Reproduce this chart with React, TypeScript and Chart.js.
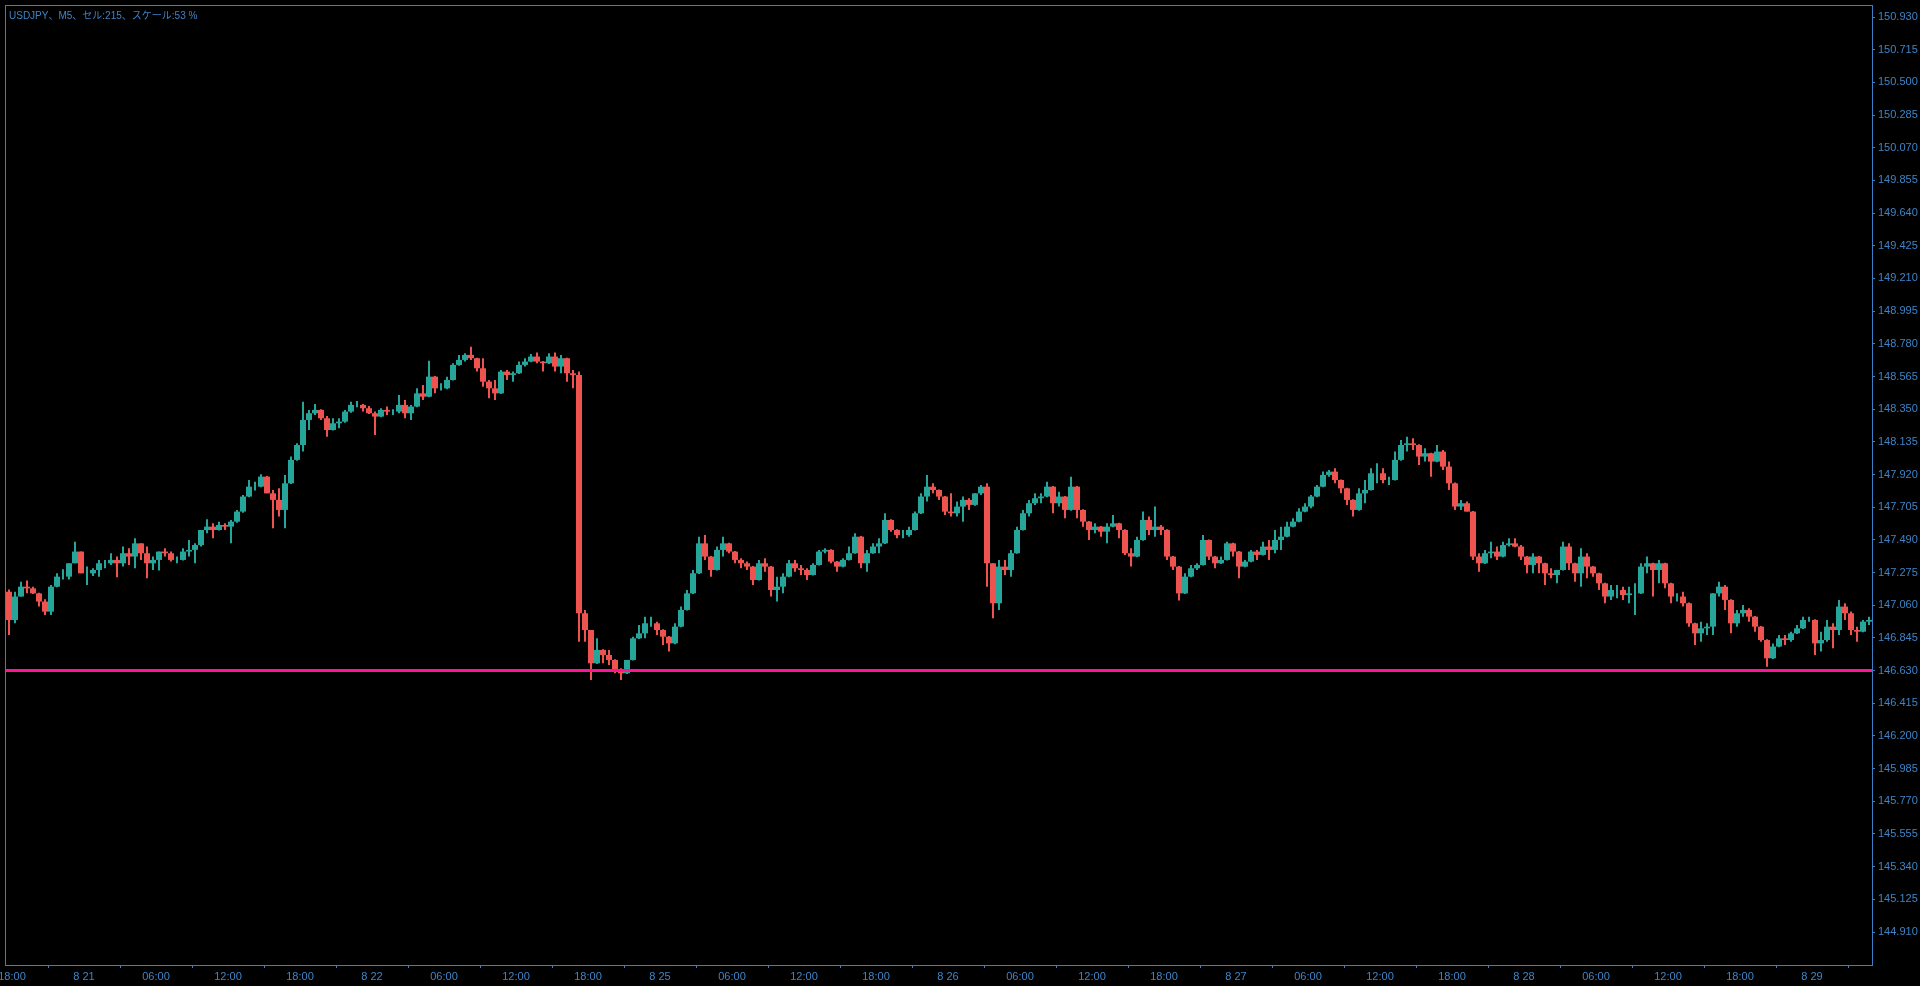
import React, { useEffect, useRef } from "react";
import { Chart, registerables } from "chart.js";

Chart.register(...registerables);

const TITLE = "USDJPY、M5、セル:215、スケール:53 %";

// 30-minute OHLC candles (server time), 8/20 17:30 .. 8/29 04:30
const openP = [
  147.149, 146.963, 147.117, 147.182, 147.171, 147.138, 147.084, 147.018, 147.182, 147.248,
  147.248, 147.336, 147.413, 147.270, 147.270, 147.292, 147.336, 147.336, 147.358, 147.336,
  147.402, 147.380, 147.467, 147.402, 147.336, 147.358, 147.413, 147.402, 147.358, 147.358,
  147.413, 147.424, 147.456, 147.555, 147.577, 147.555, 147.588, 147.577, 147.610, 147.676,
  147.775, 147.840, 147.840, 147.906, 147.796, 147.753, 147.687, 147.862, 148.016, 148.114,
  148.279, 148.323, 148.345, 148.290, 148.213, 148.257, 148.268, 148.334, 148.378, 148.378,
  148.356, 148.323, 148.301, 148.345, 148.334, 148.334, 148.378, 148.323, 148.367, 148.454,
  148.432, 148.564, 148.487, 148.487, 148.542, 148.641, 148.674, 148.707, 148.685, 148.619,
  148.531, 148.487, 148.454, 148.597, 148.575, 148.586, 148.641, 148.663, 148.696, 148.663,
  148.652, 148.696, 148.630, 148.685, 148.586, 148.575, 147.007, 146.897, 146.678, 146.766,
  146.733, 146.700, 146.634, 146.612, 146.700, 146.842, 146.875, 146.941, 146.941, 146.897,
  146.853, 146.809, 146.919, 147.029, 147.138, 147.270, 147.467, 147.380, 147.292, 147.424,
  147.467, 147.413, 147.358, 147.336, 147.314, 147.226, 147.336, 147.314, 147.160, 147.182,
  147.248, 147.336, 147.303, 147.292, 147.259, 147.325, 147.413, 147.424, 147.347, 147.314,
  147.358, 147.402, 147.511, 147.336, 147.402, 147.446, 147.467, 147.621, 147.555, 147.522,
  147.522, 147.555, 147.665, 147.775, 147.840, 147.818, 147.775, 147.676, 147.665, 147.709,
  147.753, 147.720, 147.796, 147.840, 147.336, 147.073, 147.314, 147.292, 147.402, 147.555,
  147.665, 147.731, 147.764, 147.775, 147.840, 147.731, 147.775, 147.687, 147.840, 147.687,
  147.610, 147.555, 147.577, 147.544, 147.577, 147.599, 147.555, 147.402, 147.380, 147.489,
  147.621, 147.555, 147.577, 147.555, 147.380, 147.314, 147.138, 147.248, 147.303, 147.325,
  147.489, 147.380, 147.336, 147.358, 147.467, 147.413, 147.314, 147.347, 147.413, 147.391,
  147.446, 147.424, 147.489, 147.511, 147.577, 147.610, 147.676, 147.709, 147.775, 147.840,
  147.917, 147.939, 147.884, 147.829, 147.753, 147.687, 147.796, 147.818, 147.928, 147.928,
  147.884, 147.884, 148.016, 148.114, 148.125, 148.114, 148.038, 148.060, 148.005, 148.071,
  147.972, 147.862, 147.709, 147.731, 147.676, 147.380, 147.336, 147.402, 147.413, 147.380,
  147.456, 147.467, 147.446, 147.380, 147.325, 147.380, 147.336, 147.270, 147.259, 147.292,
  147.446, 147.336, 147.270, 147.380, 147.314, 147.270, 147.204, 147.117, 147.160, 147.160,
  147.127, 147.138, 147.138, 147.314, 147.336, 147.292, 147.336, 147.204, 147.117, 147.117,
  147.073, 146.941, 146.875, 146.908, 146.919, 147.138, 147.182, 147.095, 146.941, 147.007,
  147.029, 146.985, 146.919, 146.831, 146.711, 146.788, 146.842, 146.831, 146.875, 146.908,
  146.963, 146.963, 146.809, 146.831, 146.919, 146.897, 147.051, 147.007, 146.897, 146.886,
  146.952,
];

const highP = [
  147.164, 147.149, 147.215, 147.222, 147.182, 147.142, 147.099, 147.193, 147.270, 147.296,
  147.336, 147.478, 147.413, 147.314, 147.303, 147.358, 147.358, 147.402, 147.380, 147.446,
  147.435, 147.500, 147.467, 147.446, 147.380, 147.413, 147.435, 147.413, 147.380, 147.435,
  147.489, 147.467, 147.555, 147.625, 147.599, 147.610, 147.599, 147.621, 147.687, 147.786,
  147.884, 147.873, 147.921, 147.910, 147.818, 147.829, 147.917, 148.038, 148.125, 148.399,
  148.345, 148.384, 148.349, 148.305, 148.290, 148.290, 148.345, 148.399, 148.404, 148.384,
  148.371, 148.334, 148.356, 148.367, 148.349, 148.443, 148.410, 148.378, 148.487, 148.509,
  148.669, 148.568, 148.520, 148.564, 148.652, 148.707, 148.718, 148.761, 148.689, 148.685,
  148.542, 148.542, 148.608, 148.608, 148.597, 148.663, 148.685, 148.713, 148.722, 148.667,
  148.718, 148.722, 148.707, 148.689, 148.608, 148.597, 147.029, 146.897, 146.842, 146.770,
  146.766, 146.704, 146.645, 146.700, 146.853, 146.930, 146.985, 146.985, 146.952, 146.902,
  146.858, 146.941, 147.051, 147.160, 147.292, 147.511, 147.522, 147.384, 147.446, 147.511,
  147.471, 147.417, 147.369, 147.347, 147.318, 147.358, 147.369, 147.318, 147.248, 147.270,
  147.358, 147.358, 147.325, 147.303, 147.336, 147.424, 147.435, 147.428, 147.351, 147.369,
  147.446, 147.533, 147.515, 147.424, 147.467, 147.500, 147.665, 147.625, 147.560, 147.555,
  147.577, 147.676, 147.796, 147.917, 147.862, 147.822, 147.779, 147.796, 147.742, 147.775,
  147.764, 147.796, 147.851, 147.862, 147.336, 147.358, 147.358, 147.424, 147.577, 147.687,
  147.753, 147.796, 147.796, 147.873, 147.845, 147.807, 147.779, 147.906, 147.845, 147.691,
  147.614, 147.599, 147.582, 147.599, 147.654, 147.603, 147.560, 147.435, 147.511, 147.676,
  147.643, 147.709, 147.588, 147.560, 147.384, 147.318, 147.270, 147.325, 147.336, 147.522,
  147.493, 147.384, 147.380, 147.478, 147.471, 147.417, 147.358, 147.424, 147.424, 147.478,
  147.489, 147.555, 147.577, 147.610, 147.632, 147.698, 147.731, 147.786, 147.851, 147.939,
  147.950, 147.961, 147.888, 147.833, 147.757, 147.829, 147.884, 147.961, 147.994, 147.961,
  147.906, 148.071, 148.147, 148.169, 148.158, 148.119, 148.093, 148.064, 148.114, 148.082,
  148.005, 147.867, 147.753, 147.742, 147.680, 147.402, 147.424, 147.478, 147.446, 147.478,
  147.500, 147.500, 147.456, 147.384, 147.402, 147.384, 147.340, 147.303, 147.292, 147.478,
  147.467, 147.340, 147.435, 147.402, 147.318, 147.274, 147.208, 147.193, 147.193, 147.182,
  147.182, 147.204, 147.336, 147.380, 147.340, 147.358, 147.340, 147.208, 147.138, 147.149,
  147.078, 146.945, 146.952, 146.941, 147.138, 147.215, 147.193, 147.099, 147.029, 147.062,
  147.040, 146.989, 146.923, 146.836, 146.809, 146.864, 146.864, 146.886, 146.930, 146.985,
  146.985, 146.967, 146.886, 146.963, 146.941, 147.095, 147.073, 147.018, 146.919, 146.963,
  146.985,
];

const lowP = [
  146.864, 146.941, 147.117, 147.138, 147.134, 147.051, 146.996, 146.996, 147.178, 147.230,
  147.230, 147.336, 147.270, 147.193, 147.252, 147.248, 147.303, 147.325, 147.244, 147.314,
  147.325, 147.303, 147.358, 147.237, 147.292, 147.288, 147.380, 147.347, 147.336, 147.354,
  147.380, 147.336, 147.446, 147.533, 147.500, 147.551, 147.555, 147.467, 147.603, 147.669,
  147.771, 147.814, 147.836, 147.796, 147.566, 147.643, 147.566, 147.858, 148.011, 148.071,
  148.213, 148.312, 148.279, 148.169, 148.209, 148.224, 148.261, 148.327, 148.362, 148.334,
  148.318, 148.180, 148.296, 148.312, 148.312, 148.323, 148.290, 148.279, 148.362, 148.410,
  148.428, 148.454, 148.472, 148.481, 148.538, 148.636, 148.663, 148.674, 148.597, 148.498,
  148.421, 148.410, 148.450, 148.542, 148.531, 148.582, 148.630, 148.658, 148.652, 148.597,
  148.647, 148.597, 148.586, 148.531, 148.487, 146.820, 146.820, 146.568, 146.674, 146.678,
  146.667, 146.612, 146.568, 146.608, 146.696, 146.838, 146.842, 146.919, 146.864, 146.798,
  146.755, 146.804, 146.915, 147.025, 147.134, 147.266, 147.358, 147.248, 147.288, 147.380,
  147.402, 147.336, 147.303, 147.292, 147.193, 147.222, 147.281, 147.117, 147.084, 147.138,
  147.244, 147.281, 147.259, 147.226, 147.255, 147.321, 147.402, 147.336, 147.281, 147.310,
  147.354, 147.398, 147.303, 147.281, 147.398, 147.402, 147.463, 147.544, 147.500, 147.500,
  147.511, 147.551, 147.661, 147.742, 147.796, 147.753, 147.654, 147.643, 147.643, 147.610,
  147.687, 147.715, 147.786, 147.182, 146.974, 147.029, 147.259, 147.248, 147.398, 147.551,
  147.643, 147.720, 147.731, 147.771, 147.665, 147.709, 147.632, 147.682, 147.632, 147.577,
  147.489, 147.533, 147.511, 147.467, 147.573, 147.500, 147.391, 147.314, 147.376, 147.485,
  147.522, 147.511, 147.522, 147.358, 147.292, 147.091, 147.134, 147.244, 147.292, 147.321,
  147.358, 147.303, 147.332, 147.354, 147.380, 147.237, 147.310, 147.343, 147.358, 147.387,
  147.358, 147.402, 147.424, 147.507, 147.573, 147.606, 147.672, 147.698, 147.771, 147.836,
  147.906, 147.862, 147.796, 147.720, 147.643, 147.682, 147.731, 147.814, 147.862, 147.862,
  147.851, 147.880, 148.011, 148.071, 148.082, 147.983, 148.005, 147.906, 148.000, 147.950,
  147.818, 147.687, 147.687, 147.676, 147.358, 147.281, 147.332, 147.369, 147.358, 147.376,
  147.446, 147.441, 147.358, 147.270, 147.270, 147.270, 147.193, 147.237, 147.204, 147.288,
  147.292, 147.215, 147.182, 147.237, 147.248, 147.160, 147.073, 147.095, 147.106, 147.095,
  147.073, 146.996, 147.134, 147.270, 147.117, 147.204, 147.171, 147.073, 147.084, 147.051,
  146.919, 146.798, 146.820, 146.864, 146.864, 147.117, 147.029, 146.875, 146.919, 146.985,
  146.952, 146.886, 146.820, 146.656, 146.707, 146.783, 146.798, 146.820, 146.871, 146.904,
  146.952, 146.733, 146.755, 146.820, 146.777, 146.864, 146.963, 146.864, 146.820, 146.882,
  146.930,
];

const closeP = [
  146.963, 147.117, 147.182, 147.171, 147.138, 147.084, 147.018, 147.182, 147.248, 147.248,
  147.336, 147.413, 147.270, 147.270, 147.292, 147.336, 147.336, 147.358, 147.336, 147.402,
  147.380, 147.467, 147.402, 147.336, 147.358, 147.413, 147.402, 147.358, 147.358, 147.413,
  147.424, 147.456, 147.555, 147.577, 147.555, 147.588, 147.577, 147.610, 147.676, 147.775,
  147.840, 147.840, 147.906, 147.796, 147.753, 147.687, 147.862, 148.016, 148.114, 148.279,
  148.323, 148.345, 148.290, 148.213, 148.257, 148.268, 148.334, 148.378, 148.378, 148.356,
  148.323, 148.301, 148.345, 148.334, 148.334, 148.378, 148.323, 148.367, 148.454, 148.432,
  148.564, 148.487, 148.487, 148.542, 148.641, 148.674, 148.707, 148.685, 148.619, 148.531,
  148.487, 148.454, 148.597, 148.575, 148.586, 148.641, 148.663, 148.696, 148.663, 148.652,
  148.696, 148.630, 148.685, 148.586, 148.575, 147.007, 146.897, 146.678, 146.766, 146.733,
  146.700, 146.634, 146.612, 146.700, 146.842, 146.875, 146.941, 146.941, 146.897, 146.853,
  146.809, 146.919, 147.029, 147.138, 147.270, 147.467, 147.380, 147.292, 147.424, 147.467,
  147.413, 147.358, 147.336, 147.314, 147.226, 147.336, 147.314, 147.160, 147.182, 147.248,
  147.336, 147.303, 147.292, 147.259, 147.325, 147.413, 147.424, 147.347, 147.314, 147.358,
  147.402, 147.511, 147.336, 147.402, 147.446, 147.467, 147.621, 147.555, 147.522, 147.522,
  147.555, 147.665, 147.775, 147.840, 147.818, 147.775, 147.676, 147.665, 147.709, 147.753,
  147.720, 147.796, 147.840, 147.336, 147.073, 147.314, 147.292, 147.402, 147.555, 147.665,
  147.731, 147.764, 147.775, 147.840, 147.731, 147.775, 147.687, 147.840, 147.687, 147.610,
  147.555, 147.577, 147.544, 147.577, 147.599, 147.555, 147.402, 147.380, 147.489, 147.621,
  147.555, 147.577, 147.555, 147.380, 147.314, 147.138, 147.248, 147.303, 147.325, 147.489,
  147.380, 147.336, 147.358, 147.467, 147.413, 147.314, 147.347, 147.413, 147.391, 147.446,
  147.424, 147.489, 147.511, 147.577, 147.610, 147.676, 147.709, 147.775, 147.840, 147.917,
  147.939, 147.884, 147.829, 147.753, 147.687, 147.796, 147.818, 147.928, 147.928, 147.884,
  147.884, 148.016, 148.114, 148.125, 148.114, 148.038, 148.060, 148.005, 148.071, 147.972,
  147.862, 147.709, 147.731, 147.676, 147.380, 147.336, 147.402, 147.413, 147.380, 147.456,
  147.467, 147.446, 147.380, 147.325, 147.380, 147.336, 147.270, 147.259, 147.292, 147.446,
  147.336, 147.270, 147.380, 147.314, 147.270, 147.204, 147.117, 147.160, 147.160, 147.127,
  147.138, 147.138, 147.314, 147.336, 147.292, 147.336, 147.204, 147.117, 147.117, 147.073,
  146.941, 146.875, 146.908, 146.919, 147.138, 147.182, 147.095, 146.941, 147.007, 147.029,
  146.985, 146.919, 146.831, 146.711, 146.788, 146.842, 146.831, 146.875, 146.908, 146.963,
  146.963, 146.809, 146.831, 146.919, 146.897, 147.051, 147.007, 146.897, 146.886, 146.952,
  146.963,
];

// x-axis ticks: candle index where each 6-hour label sits, and its text
const xTickCandles = [1, 13, 25, 37, 49, 61, 73, 85, 97, 109, 121, 133, 145, 157, 169, 181, 193, 205, 217, 229, 241, 253, 265, 277, 289, 301];
const xTickLabels = [
  "18:00", "8 21", "06:00", "12:00", "18:00", "8 22", "06:00", "12:00", "18:00",
  "8 25", "06:00", "12:00", "18:00", "8 26", "06:00", "12:00", "18:00",
  "8 27", "06:00", "12:00", "18:00", "8 28", "06:00", "12:00", "18:00", "8 29",
];

const yTickLabels = [
  "150.930", "150.715", "150.500", "150.285", "150.070", "149.855", "149.640", "149.425",
  "149.210", "148.995", "148.780", "148.565", "148.350", "148.135", "147.920", "147.705",
  "147.490", "147.275", "147.060", "146.845", "146.630", "146.415", "146.200", "145.985",
  "145.770", "145.555", "145.340", "145.125", "144.910",
];

const hLinePrice = 146.63;
const Y_MIN = 144.693;
const Y_MAX = 151.009;

const UP = "#26a69a";
const DOWN = "#ef5350";
const AXIS = "#3b7fc4";
const TEXT = "#3e84c8";
const HLINE = "#ff1493";
const FONT_FAMILY = "'Liberation Sans', Arial, 'Noto Sans CJK JP', sans-serif";

export default function App() {
  const ref = useRef<HTMLCanvasElement | null>(null);

  useEffect(() => {
    document.body.style.margin = "0";
    document.body.style.background = "#000";
    document.body.style.overflow = "hidden";
    const canvas = ref.current;
    if (!canvas) return;
    const n = closeP.length;
    const colorAt = (i: number) => (closeP[i] >= openP[i] ? UP : DOWN);
    const wick = closeP.map((_, i) => ({ x: i + 0.5, y: [lowP[i], highP[i]] }));
    const body = closeP.map((_, i) => ({ x: i + 0.5, y: [openP[i], closeP[i]] }));

    const framePlugin = {
      id: "mtFrame",
      beforeDraw(chart: any) {
        const c = chart.ctx;
        c.save();
        c.fillStyle = "#000";
        c.fillRect(0, 0, chart.width, chart.height);
        c.restore();
      },
      afterDraw(chart: any) {
        const c = chart.ctx;
        const a = chart.chartArea;
        c.save();
        c.strokeStyle = AXIS;
        c.lineWidth = 1;
        c.strokeRect(a.left - 0.5, a.top + 0.5, a.right - a.left + 1, a.bottom - a.top);
        c.fillStyle = TEXT;
        c.font = `10px ${FONT_FAMILY}`;
        c.textBaseline = "middle";
        c.textAlign = "left";
        c.fillText(TITLE, a.left + 3, a.top + 11);
        c.restore();
      },
    };

    const chart = new Chart(canvas, {
      type: "bar",
      data: {
        datasets: [
          {
            type: "line",
            data: [
              { x: 0, y: hLinePrice },
              { x: n, y: hLinePrice },
            ],
            borderColor: HLINE,
            borderWidth: 3,
            pointRadius: 0,
            order: 0,
          } as any,
          {
            data: body,
            backgroundColor: (ctx: any) => colorAt(ctx.dataIndex),
            barThickness: 6,
            grouped: false,
            inflateAmount: 0,
            borderWidth: 0,
            order: 1,
          } as any,
          {
            data: wick,
            backgroundColor: (ctx: any) => colorAt(ctx.dataIndex),
            barThickness: 2,
            grouped: false,
            inflateAmount: 0,
            borderWidth: 0,
            order: 2,
          } as any,
        ],
      },
      options: {
        responsive: false,
        animation: false,
        devicePixelRatio: 1,
        layout: { autoPadding: false, padding: { left: 6, top: 5, right: 0, bottom: 0 } },
        plugins: {
          legend: { display: false },
          tooltip: { enabled: false },
          title: { display: false },
        },
        scales: {
          x: {
            type: "linear",
            min: 0,
            max: n,
            offset: false,
            bounds: "data",
            grid: {
              display: true,
              drawOnChartArea: false,
              drawTicks: true,
              tickLength: 3,
              color: AXIS,
              tickColor: AXIS,
            },
            border: { display: false },
            ticks: {
              autoSkip: false,
              maxRotation: 0,
              minRotation: 0,
              padding: 2,
              color: TEXT,
              font: { family: FONT_FAMILY, size: 11 },
              callback: (v: any) => {
                const k = xTickCandles.indexOf(Number(v));
                return k >= 0 ? xTickLabels[k] : "";
              },
            },
            afterBuildTicks: (scale: any) => {
              scale.ticks = xTickCandles.map((v) => ({ value: v }));
            },
            afterFit: (scale: any) => {
              scale.height = 21;
              scale.paddingLeft = 0;
              scale.paddingRight = 0;
            },
          },
          y: {
            type: "linear",
            position: "right",
            min: Y_MIN,
            max: Y_MAX,
            bounds: "data",
            grid: {
              display: true,
              drawOnChartArea: false,
              drawTicks: true,
              tickLength: 3,
              color: AXIS,
              tickColor: AXIS,
            },
            border: { display: false },
            ticks: {
              autoSkip: false,
              padding: 3,
              color: TEXT,
              font: { family: FONT_FAMILY, size: 11 },
              callback: (v: any) => Number(v).toFixed(3),
            },
            afterBuildTicks: (scale: any) => {
              scale.ticks = yTickLabels
                .map((s) => ({ value: parseFloat(s) }))
                .reverse();
            },
            afterFit: (scale: any) => {
              scale.width = 48;
              scale.paddingTop = 0;
              scale.paddingBottom = 0;
            },
          },
        },
      },
      plugins: [framePlugin],
    } as any);

    return () => chart.destroy();
  }, []);

  return (
    <canvas
      ref={ref}
      width={1920}
      height={986}
      style={{ display: "block", width: 1920, height: 986 }}
    />
  );
}
